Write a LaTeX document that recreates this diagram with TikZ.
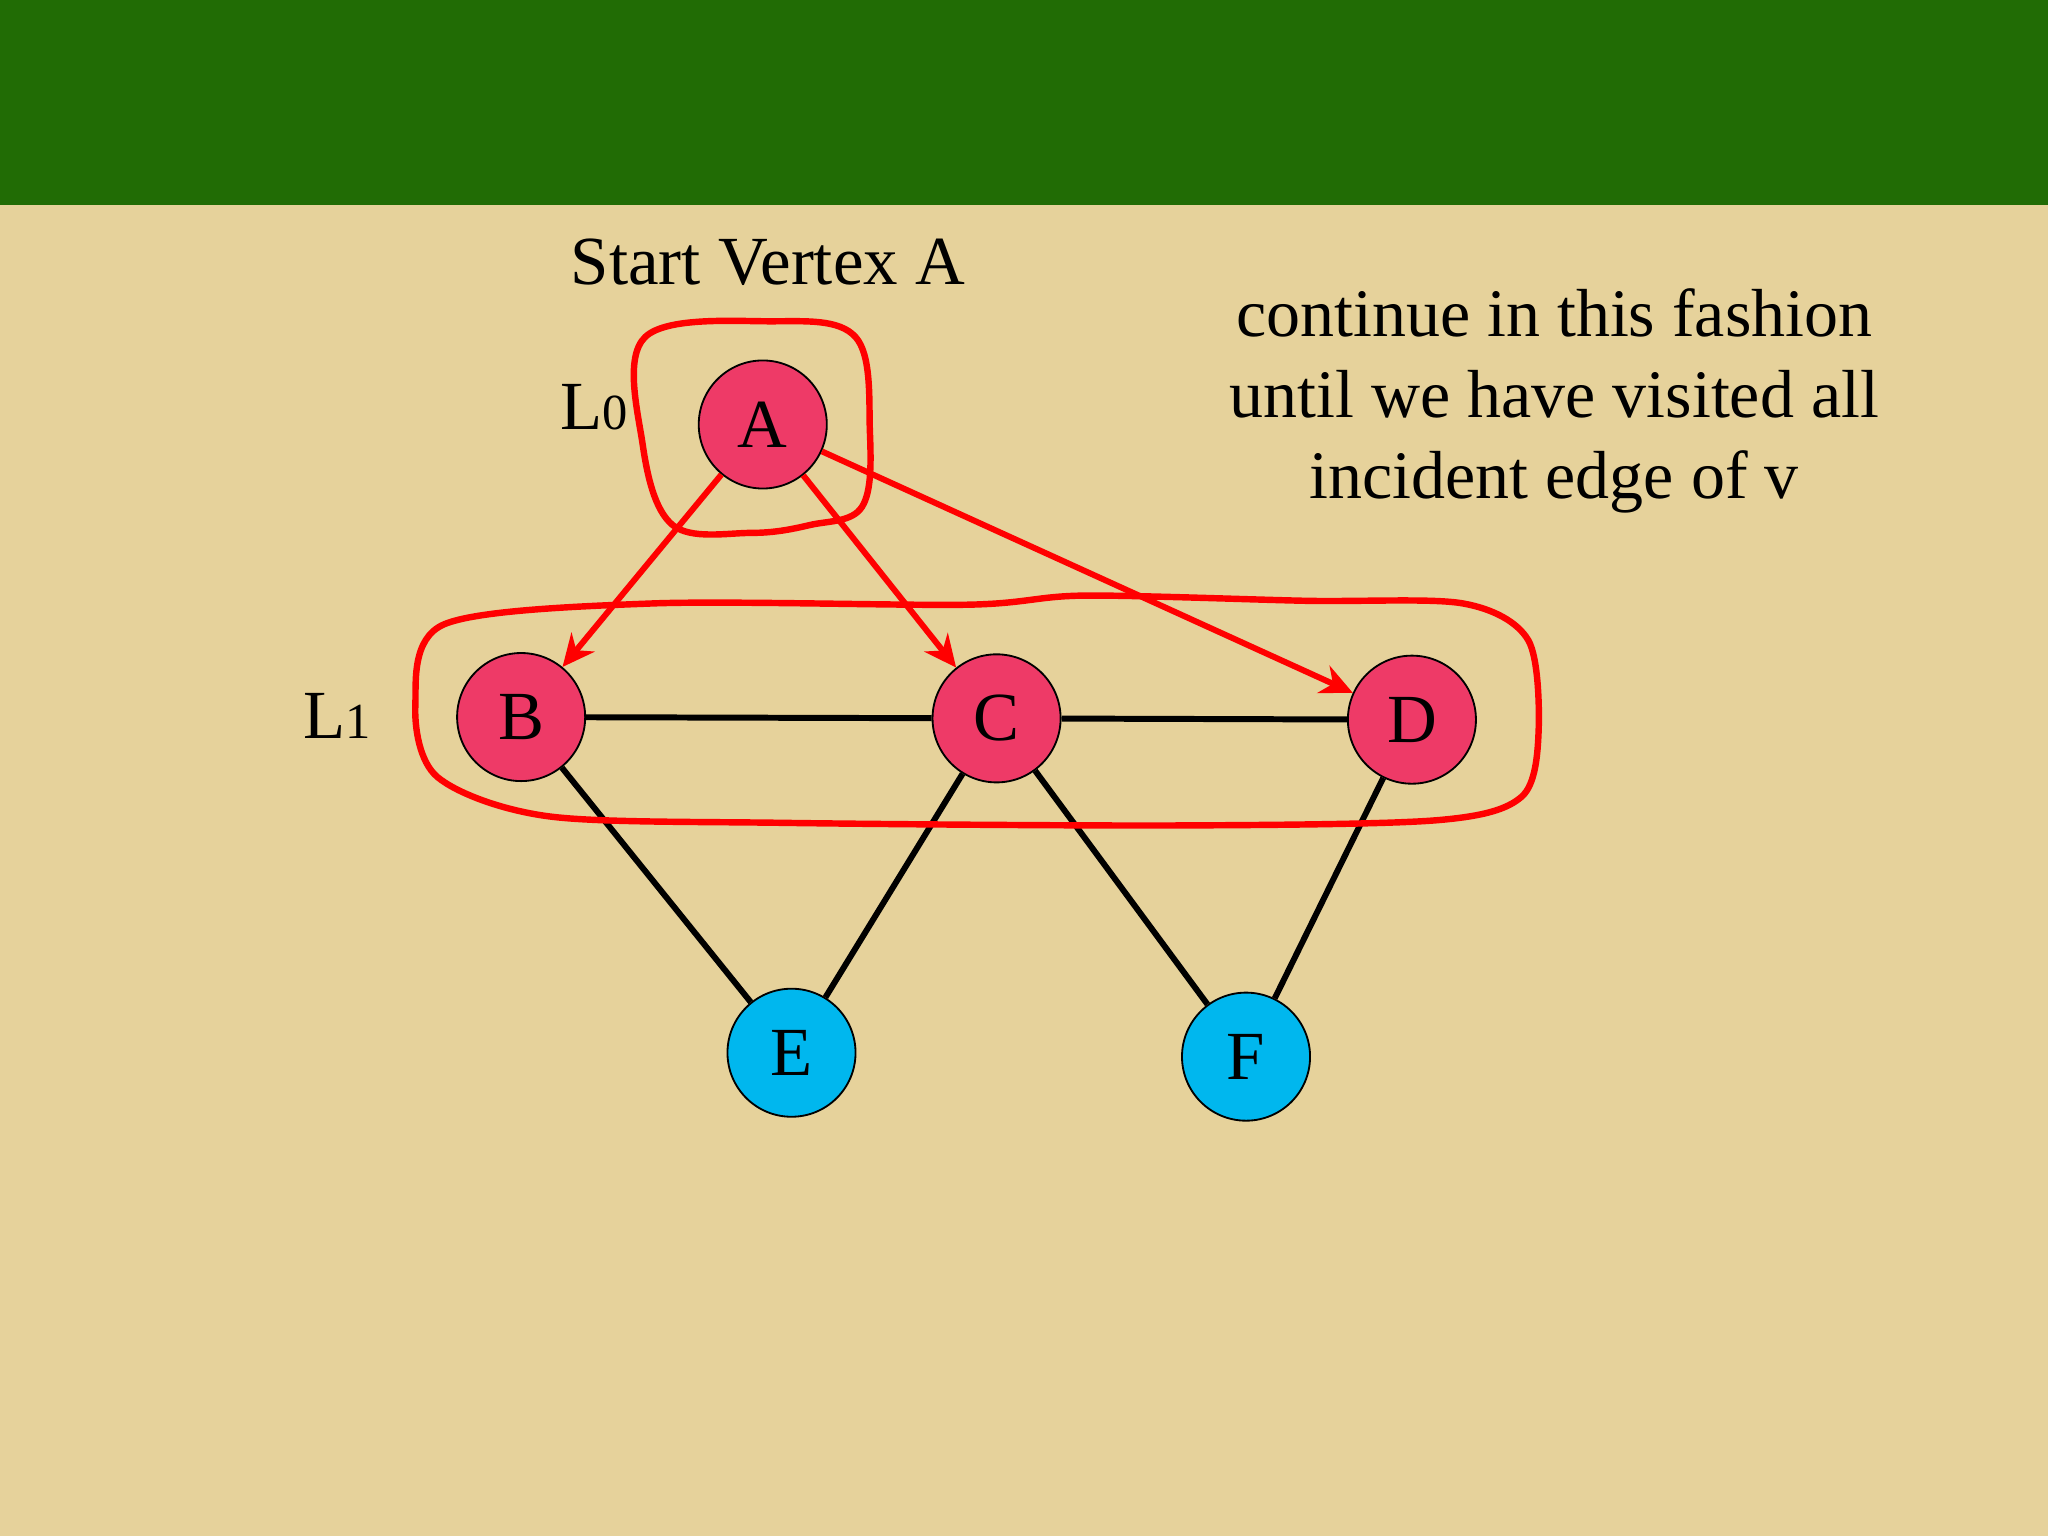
\documentclass[tikz,border=0pt]{standalone}
\usepackage{fontspec}
\setmainfont{Liberation Serif}
\usetikzlibrary{arrows.meta}
\definecolor{bg}{RGB}{230,210,155}
\definecolor{band}{RGB}{33,108,5}
\definecolor{pinkn}{RGB}{238,58,103}
\definecolor{cyann}{RGB}{0,183,238}
\begin{document}
\begin{tikzpicture}[x=0.01cm,y=-0.01cm,
  vert/.style={circle,draw=black,thin,minimum size=0.98cm,inner sep=0pt,font=\fontsize{15}{15}\selectfont},
  edge/.style={line width=1.3pt},
  redarr/.style={red,line width=1.3pt,-{Stealth[length=7pt,width=6.5pt]}},
  loop/.style={red,line width=1.4pt},
  lbl/.style={font=\fontsize{15}{18}\selectfont}]
\useasboundingbox (0,0) rectangle (1568,1176);
\fill[bg] (0,0) rectangle (1568,1176);
\fill[band] (0,0) rectangle (1568,157);
\node[vert,fill=pinkn] (A) at (584,325) {A};
\node[vert,fill=pinkn] (B) at (399,549) {B};
\node[vert,fill=pinkn] (C) at (763,550) {C};
\node[vert,fill=pinkn] (D) at (1081,551) {D};
\node[vert,fill=cyann] (E) at (606,806) {E};
\node[vert,fill=cyann] (F) at (954,809) {F};
\draw[edge] (B) -- (C);
\draw[edge] (C) -- (D);
\draw[edge] (B) -- (E);
\draw[edge] (C) -- (E);
\draw[edge] (C) -- (F);
\draw[edge] (D) -- (F);
\draw[redarr] (A) -- (B);
\draw[redarr] (A) -- (C);
\draw[redarr] (A) -- (D);
\node[lbl] (t) at (588,201) {Start Vertex A};
\node[lbl] (l0) at (455,312) {L\fontsize{11}{11}\selectfont0};
\node[lbl] (l1) at (258,548) {L\fontsize{11}{11}\selectfont1};
\node[lbl,align=center,font=\fontsize{14.8}{17.6}\selectfont] (note) at (1190,307) {continue in this fashion\\until we have visited all\\incident edge of v};
\draw[loop] plot[smooth cycle,tension=0.6] coordinates {(494,258) (590,246) (655,258) (666,330) (660,388) (620,402) (575,408) (515,402) (492,340)};
\draw[loop] plot[smooth cycle,tension=0.5] coordinates {(340,478) (500,462) (740,463) (830,456) (1000,460) (1120,462) (1170,490) (1178,560) (1165,610) (1100,628) (900,632) (600,630) (420,625) (335,595) (318,540)};
\end{tikzpicture}
\end{document}
